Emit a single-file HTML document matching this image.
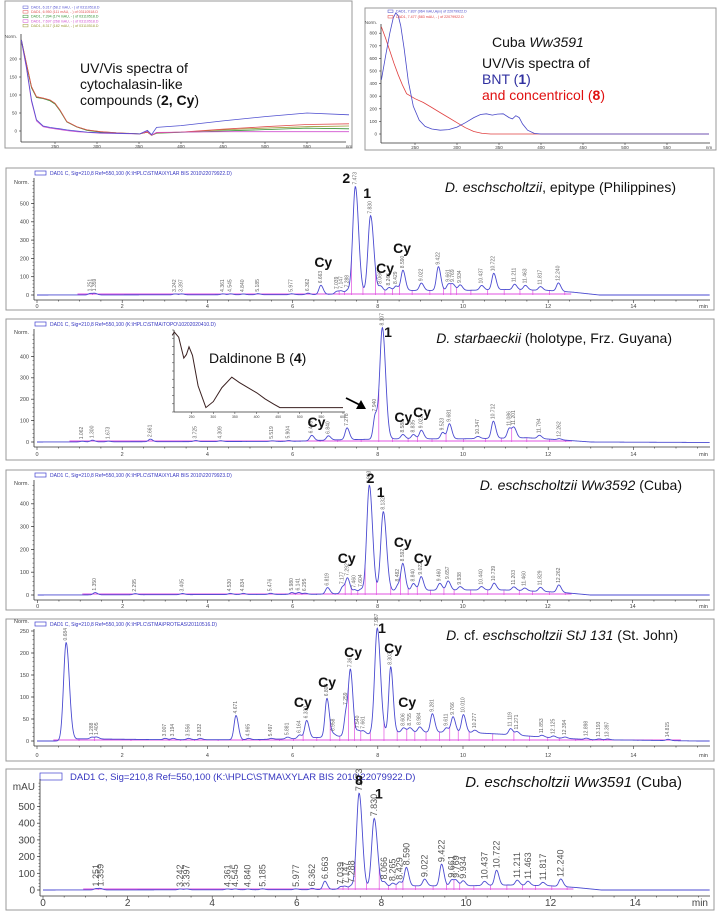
<!DOCTYPE html>
<html><head><meta charset="utf-8">
<style>
html,body{margin:0;padding:0;background:#fff;}
svg{display:block;font-family:"Liberation Sans",sans-serif;}
</style></head>
<body>
<svg id="fig" width="720" height="918" viewBox="0 0 720 918" xmlns="http://www.w3.org/2000/svg"></svg>
<script>
// ===== DATA =====
const specL_nm = [210,216,222,228,236,244,250,256,264,276,288,304,323,351,360,365,371,400,450,500,550,600];
const specL_red = [253,188,123,95,91,86,77,58,26,12,3,-2,-5,-8,-3,-12,-5,-3,5,12,18,20];
const specL_olive = [253,188,123,95,91,86,77,58,26,12,3,-2,-5,-8,-3,-12,-5,-3,3,8,12,14];
const specL_green = [250,185,120,93,90,84,75,56,25,11,2,-3,-6,-8,-3,-12,-6,-4,0,4,8,6];
const specL_blue = [253,179,86,31,14,10,8,6,3,0,-3,-5,-6,-8,2,-10,10,15,28,40,50,45];
const specL_mag = [250,175,82,28,12,8,6,4,1,-2,-4,-6,-7,-8,0,-11,-4,-3,-2,-2,-2,-2];
const specR_nmB = [210,215,220,224,227,230,233,237,242,248,255,262,270,280,290,300,310,320,328,335,342,348,355,362,366,370,374,378,384,392,400,450,500,550,600];
const specR_blue = [430,620,800,920,960,940,860,680,420,220,110,60,40,30,35,55,90,130,155,160,150,158,160,130,120,145,130,80,30,5,0,0,0,0,0];
const specR_nmR = [210,215,220,225,230,235,240,250,260,270,280,290,300,310,320,330,340,400,500,600];
const specR_red = [850,760,660,560,470,390,320,280,250,210,170,130,90,50,20,5,0,0,0,0];
const inset_nm = [205,210,220,232,238,244,252,265,283,300,320,343,360,380,401,420,440,454,500,600];
const inset_abs = [88,92,86,62,66,75,65,30,5,12,28,40,34,28,22,15,9,5,5,5];

const p1Times = [1.251,1.359,3.242,3.397,4.361,4.545,4.840,5.185,5.977,6.362,6.663,7.039,7.147,7.288,7.473,7.830,8.066,8.265,8.429,8.590,9.022,9.422,9.661,9.769,9.934,10.437,10.722,11.211,11.463,11.817,12.240];
const p1Heights = [8,8,5,5,5,5,4,6,5,8,50,15,15,18,585,420,30,20,25,110,40,130,35,30,30,25,90,30,25,20,45];
const p1BaseT = [0,6.5,7.5,8.5,10,11,12,12.6,13.2,15.5];
const p1BaseV = [0,2,8,25,25,30,25,15,0,0];
const p1AnnText = ["2","1","Cy","Cy","Cy"];
const p1AnnT = [7.26,7.75,6.72,8.17,8.57];
const p1AnnV = [640,557,180,148,257];
const p2Times = [1.062,1.300,1.673,2.661,3.725,4.309,5.519,5.904,6.449,6.840,7.278,7.940,8.107,8.588,8.835,9.022,9.523,9.681,10.347,10.712,11.086,11.201,11.794,12.262];
const p2Heights = [3,8,3,12,5,4,3,4,25,20,55,110,520,20,20,40,30,70,10,80,45,45,15,5];
const p2BaseT = [0,6,7,8.5,10,11.5,12.3,13,15.5];
const p2BaseV = [0,3,10,15,15,20,10,0,-2];
const p2AnnText = ["1","Cy","Cy","Cy"];
const p2AnnT = [8.24,6.56,8.6,9.04];
const p2AnnV = [514,93,117,140];
const p3Times = [1.350,2.295,3.405,4.530,4.834,5.476,5.980,6.141,6.295,6.819,7.177,7.292,7.460,7.604,7.803,8.132,8.482,8.592,8.840,9.022,9.460,9.657,9.938,10.440,10.739,11.203,11.460,11.829,12.262];
const p3Heights = [10,5,5,5,5,5,8,8,5,28,30,65,15,15,470,350,25,115,30,60,30,40,15,15,30,15,12,18,32];
const p3BaseT = [0,6.5,7.5,8.5,10,11,12.3,13,15.5];
const p3BaseV = [0,3,8,20,22,22,12,0,0];
const p3AnnText = ["2","1","Cy","Cy","Cy"];
const p3AnnT = [7.83,8.07,7.27,8.59,9.06];
const p3AnnV = [513,452,162,232,162];
const p4Times = [0.684,1.288,1.405,3.007,3.194,3.556,3.832,4.671,4.965,5.497,5.881,6.164,6.330,6.806,6.958,7.259,7.361,7.540,7.661,7.987,8.303,8.606,8.755,8.984,9.281,9.611,9.766,10.010,10.277,11.119,11.271,11.853,12.125,12.394,12.898,13.193,13.397,14.815];
const p4Heights = [222,4,4,3,3,3,3,55,3,2,4,8,40,88,6,55,140,10,8,240,150,10,10,12,42,10,35,40,6,14,8,4,4,3,3,2,2,3];
const p4BaseT = [0,0.5,1.0,3,5,6,7,8.5,10,11,12,13,14,15.5];
const p4BaseV = [0,0,5,3,3,5,10,20,20,15,8,3,2,0];
const p4AnnText = ["Cy","Cy","Cy","1","Cy","Cy"];
const p4AnnT = [6.24,6.81,7.42,8.1,8.36,8.69];
const p4AnnV = [89,134,202,257,211,89];
const p5Times = [1.251,1.359,3.242,3.397,4.361,4.545,4.840,5.185,5.977,6.362,6.663,7.039,7.147,7.288,7.473,7.830,8.066,8.265,8.429,8.590,9.022,9.422,9.661,9.769,9.934,10.437,10.722,11.211,11.463,11.817,12.240];
const p5Heights = [8,8,5,5,5,5,4,6,5,8,50,15,15,18,572,415,30,20,25,110,40,130,35,30,30,25,90,30,25,20,45];
const p5BaseT = [0,6.5,7.5,8.5,10,11,12,12.6,13.2,15.5];
const p5BaseV = [0,2,8,25,25,30,25,15,0,0];
const p5AnnText = ["8","1"];
const p5AnnT = [7.47,7.94];
const p5AnnV = [660,578];
const yTicksA = [0,100,200,300,400,500];
const yTicksB = [0,100,200,300,400];
const yTicksC = [0,50,100,150,200,250];
const xTicks = [0,2,4,6,8,10,12,14];

// ===== DRAWING =====
const NS = "http://www.w3.org/2000/svg";
const svg = document.getElementById('fig');
function mk(tag, attrs, parent, txt){
  const e = document.createElementNS(NS, tag);
  for (const k in attrs) e.setAttribute(k, attrs[k]);
  if (txt !== undefined) e.textContent = txt;
  (parent || svg).appendChild(e);
  return e;
}
function interp(xs, ys, x){
  if (x <= xs[0]) return ys[0];
  for (let i=1;i<xs.length;i++){ if (x <= xs[i]) { const f=(x-xs[i-1])/(xs[i]-xs[i-1]); return ys[i-1]+f*(ys[i]-ys[i-1]); } }
  return ys[ys.length-1];
}

function specPanel(cfg){
  const g = mk('g', {});
  
  
  const box = mk('rect', {x:cfg.bx, y:cfg.by, width:cfg.bw, height:cfg.bh, fill:'none', stroke:'#999', 'stroke-width':1}, g);
  
  
  const X = nm => cfg.x250 + (nm-250)*0.84;
  const Y = v => cfg.y0 - v*cfg.sy;
  const ya = mk('line', {x1:cfg.ax, y1:cfg.yTop, x2:cfg.ax, y2:cfg.axY, stroke:'#333', 'stroke-width':0.8}, g);
  
  
  const xa = mk('line', {x1:cfg.ax, y1:cfg.axY, x2:cfg.bx+cfg.bw-6, y2:cfg.axY, stroke:'#333', 'stroke-width':0.8}, g);
  
  
  cfg.yt.forEach(v=>{
    mk('line',{x1:cfg.ax-2,y1:Y(v),x2:cfg.ax,y2:Y(v),stroke:'#333','stroke-width':0.6},g);
    const t = mk('text',{x:cfg.ax-4,y:Y(v)+1.5,'font-size':4.5,'text-anchor':'end',fill:'#444'},g,String(v));
    
    
  });
  const nl = mk('text',{x:cfg.ax-4,y:cfg.normY,'font-size':4.5,'text-anchor':'end',fill:'#444'},g,'Norm.');
  
  
  [250,300,350,400,450,500,550].forEach(nm=>{
    mk('line',{x1:X(nm),y1:cfg.axY,x2:X(nm),y2:cfg.axY+2,stroke:'#333','stroke-width':0.6},g);
    const t = mk('text',{x:X(nm),y:cfg.axY+6,'font-size':4.5,'text-anchor':'middle',fill:'#444'},g,String(nm));
    
    
  });
  const nmT = mk('text',{x:X(600),y:cfg.axY+6,'font-size':4.5,'text-anchor':'middle',fill:'#444'},g,'nm');
  
  
  cfg.series.forEach(s=>{
    const d = s.nm.map((n,i)=>(i?'L':'M')+X(n).toFixed(1)+','+Y(s.v[i]).toFixed(1)).join(' ');
    const p = mk('path',{d:d,fill:'none',stroke:s.c,'stroke-width':0.8},g);
    
    
  });
  cfg.legend.forEach((l,i)=>{
    const y = cfg.legY + i*cfg.legDy;
    mk('rect',{x:cfg.legX,y:y-2,width:5,height:2.5,fill:'none',stroke:l.c,'stroke-width':0.5},g);
    const t = mk('text',{x:cfg.legX+8,y:y+0.5,'font-size':3.6,fill:l.c},g,l.t);
    
    
  });
  return g;
}
specPanel({name:'uv-spectra-cytochalasins', bx:5, by:1, bw:347, bh:147, ax:21, yTop:34, axY:142, y0:131, sy:18/50, x250:55, normY:38,
  yt:[0,50,100,150,200],
  series:[{nm:specL_nm,v:specL_olive,c:'#999933',name:'spectrum-olive'},{nm:specL_nm,v:specL_green,c:'#2f8f2f',name:'spectrum-green'},{nm:specL_nm,v:specL_red,c:'#e05050',name:'spectrum-red'},{nm:specL_nm,v:specL_mag,c:'#d050d0',name:'spectrum-magenta'},{nm:specL_nm,v:specL_blue,c:'#5050d0',name:'spectrum-blue'}],
  legend:[{t:'DAD1, 6.317 (58.2 mAU, - ) of 03110518.D',c:'#5050d0'},{t:'DAD1, 6.950 (111 mAU, - ) of 03110518.D',c:'#e05050'},{t:'DAD1, 7.394 (174 mAU, - ) of 03110518.D',c:'#2f8f2f'},{t:'DAD1, 7.697 (268 mAU, - ) of 03110518.D',c:'#d050d0'},{t:'DAD1, 8.317 (182 mAU, - ) of 03110518.D',c:'#999933'}],
  legX:23, legY:8, legDy:4.6});
specPanel({name:'uv-spectra-bnt-concentricol', bx:365, by:8, bw:351, bh:142, ax:381, yTop:24, axY:143, y0:134, sy:12.6/100, x250:415, normY:24,
  yt:[0,100,200,300,400,500,600,700,800],
  series:[{nm:specR_nmR,v:specR_red,c:'#e04040',name:'spectrum-concentricol'},{nm:specR_nmB,v:specR_blue,c:'#4848c8',name:'spectrum-bnt'}],
  legend:[{t:'DAD1, 7.837 (964 mAU,Apx) of 22079922.D',c:'#4848c8'},{t:'DAD1, 7.477 (583 mAU, - ) of 22079922.D',c:'#e04040'}],
  legX:388, legY:12, legDy:5.5});
const tl = mk('text',{x:80,y:73,'font-size':14,fill:'#111'});


mk('tspan',{x:80,y:73},tl,'UV/Vis spectra of');
mk('tspan',{x:80,y:89},tl,'cytochalasin-like');
mk('tspan',{x:80,y:105},tl,'compounds (');
mk('tspan',{'font-weight':'bold'},tl,'2, Cy');
mk('tspan',{},tl,')');
const tr1 = mk('text',{x:492,y:47,'font-size':14,fill:'#111'},svg,'Cuba ');


mk('tspan',{'font-style':'italic'},tr1,'Ww3591');
const tr2 = mk('text',{x:482,y:68,'font-size':14,fill:'#111'},svg,'UV/Vis spectra of');


const tr3 = mk('text',{x:482,y:84,'font-size':14,fill:'#3030a0'},svg,'BNT (');


mk('tspan',{'font-weight':'bold'},tr3,'1');
mk('tspan',{},tr3,')');
const tr4 = mk('text',{x:482,y:100,'font-size':14,fill:'#e01010'},svg,'and concentricol (');


mk('tspan',{'font-weight':'bold'},tr4,'8');
mk('tspan',{},tr4,')');

function chrom(cfg){
  const g = mk('g', {});
  
  
  const box = mk('rect',{x:6,y:cfg.top,width:708,height:cfg.bottom-cfg.top,fill:'none',stroke:'#999','stroke-width':1},g);
  
  
  const X = t => cfg.x0 + t*cfg.pxMin;
  const Y = v => cfg.zero - v*cfg.sy;
  const fs = cfg.big ? 10 : 5.5;
  mk('rect',{x:cfg.big?40:35,y:cfg.top+(cfg.big?4:3),width:cfg.big?22:11,height:cfg.big?7:4,fill:'none',stroke:'#4040d0','stroke-width':0.7},g);
  const hd = mk('text',{x:cfg.big?70:50,y:cfg.top+(cfg.big?11:7),'font-size':cfg.big?9.5:5,fill:'#3535c0'},g,cfg.header);
  
  
  const axisY = cfg.zero + (cfg.big?6:5);
  const ya = mk('line',{x1:cfg.ax,y1:cfg.top+10,x2:cfg.ax,y2:axisY,stroke:'#333','stroke-width':0.8},g);
  
  
  const xa = mk('line',{x1:cfg.ax,y1:axisY,x2:710,y2:axisY,stroke:'#333','stroke-width':0.8},g);
  
  
  const step = cfg.yt[1]-cfg.yt[0];
  for (let v=0; Y(v) > cfg.top+12; v+=step/5){ mk('line',{x1:cfg.ax-1.5,y1:Y(v),x2:cfg.ax,y2:Y(v),stroke:'#333','stroke-width':0.5},g); }
  cfg.yt.forEach(v=>{
    mk('line',{x1:cfg.ax-3,y1:Y(v),x2:cfg.ax,y2:Y(v),stroke:'#333','stroke-width':0.7},g);
    const t = mk('text',{x:cfg.ax-5,y:Y(v)+fs*0.35,'font-size':fs,'text-anchor':'end',fill:'#444'},g,String(v));
    
    
  });
  const yl = mk('text',{x:cfg.ax-5,y:cfg.unitY,'font-size':fs,'text-anchor':'end',fill:'#444'},g,cfg.unit);
  
  
  for (let t=0; X(t) < 708; t+=0.5){ mk('line',{x1:X(t),y1:axisY,x2:X(t),y2:axisY+(t%2===0?3:1.5),stroke:'#333','stroke-width':0.6},g); }
  xTicks.forEach(t=>{
    const tx = mk('text',{x:X(t),y:cfg.labelY,'font-size':fs,'text-anchor':'middle',fill:'#444'},g,String(t));
    
    
  });
  const mn = mk('text',{x:708,y:cfg.labelY,'font-size':fs,'text-anchor':'end',fill:'#444'},g,'min');
  
  
  const sig = t => {
    let v = interp(cfg.baseT, cfg.baseV, t);
    cfg.times.forEach((ti,i)=>{ const h=cfg.heights[i]; const s = h>150?0.06:0.045; const dt=t-ti; const sk = dt>0? s*1.25 : s; v += h*Math.exp(-dt*dt/(2*sk*sk)); });
    return v;
  };
  const t0 = cfg.times[0]-0.3, t1 = cfg.times[cfg.times.length-1]+0.3;
  const pb = mk('line',{x1:X(t0),y1:Y(0)-1,x2:X(t1),y2:Y(0)-1,stroke:'#e050e0','stroke-width':0.9},g);
  
  
  cfg.times.forEach((ti,i)=>{
    const tn = i<cfg.times.length-1 ? (ti+cfg.times[i+1])/2 : ti+0.15;
    const dl = mk('line',{x1:X(tn),y1:Y(0),x2:X(tn),y2:Y(sig(tn)),stroke:'#e050e0','stroke-width':0.7},g);
    
    
  });
  let d='';
  for (let t=0; X(t)<=710; t+=0.01){ d += (d?'L':'M') + X(t).toFixed(2)+','+Y(sig(t)).toFixed(2)+' '; }
  const path = mk('path',{d:d,fill:'none',stroke:'#4a4ad0','stroke-width':0.9},g);
  
  
  cfg.times.forEach((ti,i)=>{
    const x = X(ti), y = Y(sig(ti)) - 2;
    const lab = mk('text',{x:x,y:y,'font-size':cfg.big?9:5,fill:cfg.big?'#555':'#666',transform:`rotate(-90 ${x} ${y})`,'dominant-baseline':'central'},g,ti.toFixed(3));
    
    
  });
  cfg.annText.forEach((s,i)=>{
    const a = mk('text',{x:X(cfg.annT[i]),y:Y(cfg.annV[i]),'font-size':14,'font-weight':'bold','text-anchor':'middle','dominant-baseline':'central',fill:'#111'},g,s);
    
    
  });
  const ti = mk('text',{x:cfg.titleX,y:cfg.titleY,'font-size':cfg.big?15:14,'text-anchor':'end',fill:'#111'},g);
  
  
  cfg.title.forEach(p=>{ mk('tspan',{'font-style':p[1]?'italic':'normal'},ti,p[0]); });
  return g;
}
const hdrA = 'DAD1 C, Sig=210,8 Ref=550,100 (K:\\HPLC\\STMA\\XYLAR BIS 2010\\22079922.D)';
chrom({name:'chromatogram-epitype',top:168,bottom:310,zero:295,sy:0.183,x0:37,pxMin:42.6,ax:34,labelY:308,unitY:184,unit:'Norm.',yt:yTicksA,
  times:p1Times,heights:p1Heights,baseT:p1BaseT,baseV:p1BaseV,annText:p1AnnText,annT:p1AnnT,annV:p1AnnV,header:hdrA,
  titleX:676,titleY:192,title:[['D. eschscholtzii',1],[', epitype (Philippines)',0]]});
chrom({name:'chromatogram-starbaeckii',top:319,bottom:460,zero:442,sy:0.214,x0:37,pxMin:42.6,ax:34,labelY:456,unitY:334,unit:'Norm.',yt:yTicksB,
  times:p2Times,heights:p2Heights,baseT:p2BaseT,baseV:p2BaseV,annText:p2AnnText,annT:p2AnnT,annV:p2AnnV,header:'DAD1 C, Sig=210,8 Ref=550,100 (K:\\HPLC\\STMA\\TOPO\\10202020410.D)',
  titleX:672,titleY:343,title:[['D. starbaeckii',1],[' (holotype, Frz. Guyana)',0]]});
chrom({name:'chromatogram-ww3592',top:470,bottom:610,zero:595,sy:0.228,x0:37.7,pxMin:42.5,ax:34,labelY:608,unitY:485,unit:'Norm.',yt:yTicksB,
  times:p3Times,heights:p3Heights,baseT:p3BaseT,baseV:p3BaseV,annText:p3AnnText,annT:p3AnnT,annV:p3AnnV,header:'DAD1 C, Sig=210,8 Ref=550,100 (K:\\HPLC\\STMA\\XYLAR BIS 2010\\22079923.D)',
  titleX:682,titleY:490,title:[['D. eschscholtzii Ww3592',1],[' (Cuba)',0]]});
chrom({name:'chromatogram-stj131',top:619,bottom:761,zero:741,sy:0.44,x0:37,pxMin:42.6,ax:34,labelY:757,unitY:623,unit:'Norm.',yt:yTicksC,
  times:p4Times,heights:p4Heights,baseT:p4BaseT,baseV:p4BaseV,annText:p4AnnText,annT:p4AnnT,annV:p4AnnV,header:'DAD1 C, Sig=210,8 Ref=550,100 (K:\\HPLC\\STMA\\PROTEAS\\20110516.D)',
  titleX:678,titleY:640,title:[['D.',1],[' cf. ',0],['eschscholtzii StJ 131',1],[' (St. John)',0]]});
chrom({name:'chromatogram-ww3591',big:true,top:769,bottom:910,zero:890,sy:0.167,x0:43,pxMin:42.3,ax:40,labelY:906,unitY:790,unit:'mAU',yt:yTicksA,
  times:p5Times,heights:p5Heights,baseT:p5BaseT,baseV:p5BaseV,annText:p5AnnText,annT:p5AnnT,annV:p5AnnV,header:hdrA,
  titleX:682,titleY:787,title:[['D. eschscholtzii Ww3591',1],[' (Cuba)',0]]});

(function(){
  const g = mk('g',{});
  
  
  const x0=174, y0=412, w=171, h=82;
  const X = nm => 170 + (nm-200)*0.4325;
  const Y = v => y0 - v*0.87;
  mk('rect',{x:x0,y:y0-h,width:w,height:h,fill:'#fff',stroke:'none'},g);
  mk('line',{x1:x0,y1:y0-h,x2:x0,y2:y0,stroke:'#333','stroke-width':0.8},g);
  mk('line',{x1:x0,y1:y0,x2:x0+w,y2:y0,stroke:'#333','stroke-width':0.8},g);
  for (let i=0;i<=10;i++){ mk('line',{x1:x0-2,y1:y0-i*h/10,x2:x0,y2:y0-i*h/10,stroke:'#333','stroke-width':0.5},g); }
  for (let nm=250; nm<=600; nm+=50){
    mk('line',{x1:X(nm),y1:y0,x2:X(nm),y2:y0+2,stroke:'#333','stroke-width':0.5},g);
    mk('text',{x:X(nm),y:y0+6,'font-size':3.5,'text-anchor':'middle',fill:'#444'},g,String(nm));
  }
  const d = inset_nm.map((n,i)=>(i?'L':'M')+X(n).toFixed(1)+','+Y(inset_abs[i]).toFixed(1)).join(' ');
  const p = mk('path',{d:d,fill:'none',stroke:'#3a2020','stroke-width':1},g);
  
  
  const t = mk('text',{x:209,y:363,'font-size':14,fill:'#111'},g,'Daldinone B (');
  
  
  mk('tspan',{'font-weight':'bold'},t,'4');
  mk('tspan',{},t,')');
  const ar = mk('path',{d:'M346,398 L360,405',stroke:'#000','stroke-width':1.8,fill:'none'},g);
  
  
  const ah = mk('path',{d:'M366,409 L356,409 L361,400 Z',fill:'#000'},g);
  
  
})();
</script>
</body></html>
